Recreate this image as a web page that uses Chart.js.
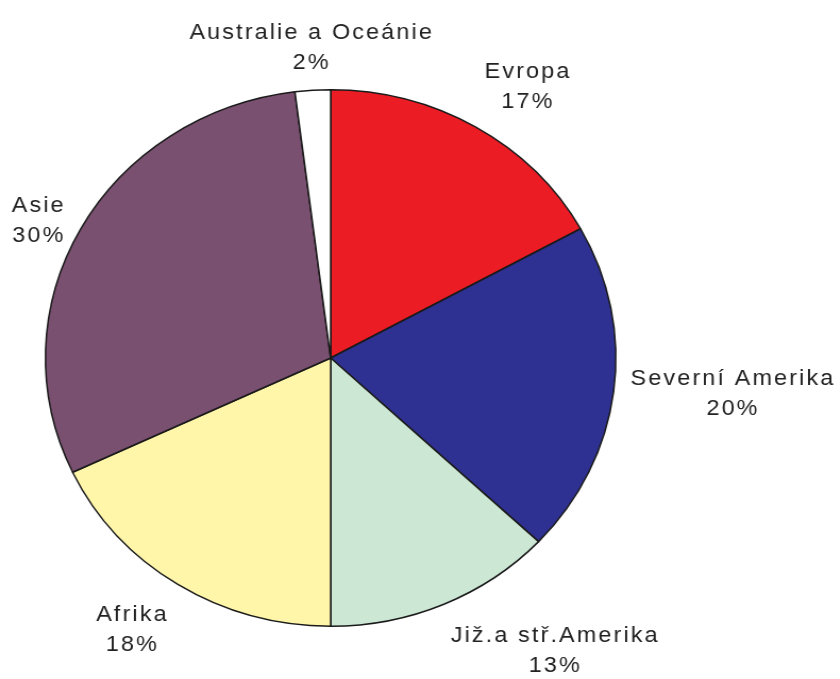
<!DOCTYPE html>
<html>
<head>
<meta charset="utf-8">
<script src="https://cdn.jsdelivr.net/npm/chart.js@4"></script>
<style>
  html, body { margin: 0; padding: 0; background: #fff; overflow: hidden; }
  #wrap {
    position: absolute; left: 0; top: 0;
    width: 790px; height: 679px;
    transform: scaleX(1.0632); transform-origin: 0 0;
  }
</style>
</head>
<body>
<div id="wrap"><canvas id="myChart"></canvas></div>
<script>
const regions = ["Evropa", "Severní Amerika", "Již.a stř.Amerika", "Afrika", "Asie", "Australie a Oceánie"];
const shares = [17, 20, 13, 18, 30, 2];
const sliceColors = ["#ec1c24", "#2e3192", "#cce8d5", "#fff6aa", "#7a5070", "#ffffff"];

// labels sit just outside each slice, aligned away from the pie
const outsideLabels = {
  id: "outsideLabels",
  afterDatasetsDraw(chart) {
    const ctx = chart.ctx;
    const meta = chart.getDatasetMeta(0);
    ctx.save();
    ctx.font = "22px 'Liberation Sans', Arial, sans-serif";
    ctx.letterSpacing = "2px";
    ctx.fillStyle = "#222";
    ctx.textBaseline = "middle";
    ctx.textAlign = "center";
    const lineH = 30;
    meta.data.forEach((arc, i) => {
      const p = arc.getProps(["x", "y", "startAngle", "endAngle", "outerRadius"], true);
      const mid = (p.startAngle + p.endAngle) / 2;
      const dx = Math.cos(mid);
      const dy = Math.sin(mid);
      const ax = p.x + dx * p.outerRadius * 1.06;
      const ay = p.y + dy * p.outerRadius * 1.06;
      const lines = [chart.data.labels[i], chart.data.datasets[0].data[i] + "%"];
      const w = Math.max(...lines.map(t => ctx.measureText(t).width));
      const h = lineH * (lines.length - 1) + 22;

      let cx = ax;
      if (dx > 0.3) cx = ax + w / 2;
      else if (dx < -0.3) cx = ax - w / 2;

      let top = ay - h / 2;
      if (dy < -0.5) top = ay - h;
      else if (dy > 0.5) top = ay + 6;

      lines.forEach((t, k) => {
        ctx.fillText(t, cx, top + 11 + k * lineH);
      });
    });
    ctx.restore();
  }
};

const init = () => {
  const ctx = document.getElementById("myChart").getContext("2d");
  new Chart(ctx, {
    type: "pie",
    data: {
      labels: regions,
      datasets: [{
        data: shares,
        backgroundColor: sliceColors,
        borderColor: "#1a1a1a",
        borderWidth: 1.5,
      }],
    },
    options: {
      responsive: true,
      maintainAspectRatio: false,
      animation: false,
      layout: { padding: { left: 42, right: 210, top: 89, bottom: 52 } },
      plugins: {
        legend: { display: false },
        tooltip: { enabled: false },
      },
    },
    plugins: [outsideLabels],
  });
};

window.addEventListener("load", init);
</script>
</body>
</html>
